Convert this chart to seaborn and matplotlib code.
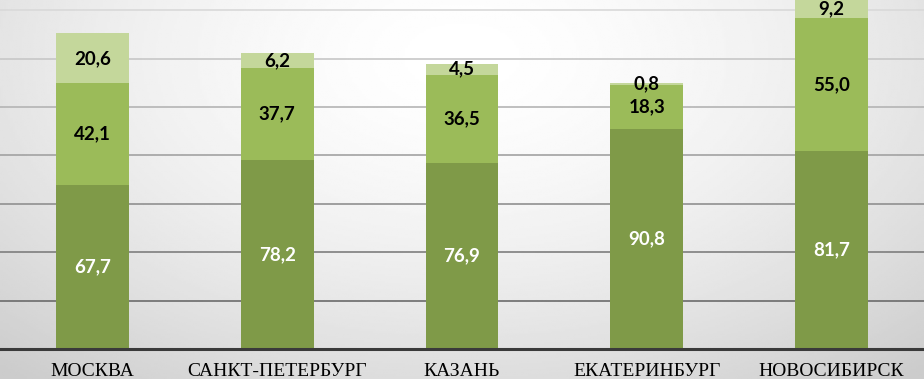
import numpy as np
import pandas as pd
import matplotlib.pyplot as plt
import seaborn as sns

# данные
cities = ['МОСКВА', 'САНКТ-ПЕТЕРБУРГ', 'КАЗАНЬ', 'ЕКАТЕРИНБУРГ', 'НОВОСИБИРСК']
base = [67.7, 78.2, 76.9, 90.8, 81.7]
middle = [42.1, 37.7, 36.5, 18.3, 55.0]
top = [20.6, 6.2, 4.5, 0.8, 9.2]
grid_ticks = [0, 20, 40, 60, 80, 100, 120, 140]

df = pd.DataFrame({'city': cities, 'base': base, 'middle': middle, 'top': top})
df['bottom2'] = df['base'] + df['middle']

sns.set_style('white')

fig = plt.figure(figsize=(9.24, 3.79), dpi=100)

# фон с мягким градиентом
bg = fig.add_axes([0, 0, 1, 1], zorder=-2)
yy, xx = np.mgrid[0:1:200j, 0:1:400j]
r = np.sqrt(((xx - 0.5) / 0.75) ** 2 + ((yy - 0.15) / 1.1) ** 2)
bg.imshow(1 - 0.2 * np.clip(r, 0, 1) ** 1.6, cmap='gray', vmin=0, vmax=1,
          aspect='auto', extent=[0, 1, 1, 0])
bg.axis('off')

ax = fig.add_axes([0, 30 / 379, 1, 349 / 379])
ax.patch.set_alpha(0)

colors = ['#7F9A48', '#9BBB59', '#C4D79B']
w = 0.395
lab = dict(label_type='center', fontsize=13.5, fontweight='bold', family='Lato')

sns.barplot(data=df, x='city', y='base', color=colors[0], width=w, saturation=1,
            errorbar=None, ax=ax, zorder=3, linewidth=0, edgecolor='none')
ax.bar_label(ax.containers[-1], labels=[f'{v:.1f}'.replace('.', ',') for v in base],
             color='white', **lab)

sns.barplot(data=df, x='city', y='middle', bottom=df['base'], color=colors[1], width=w,
            saturation=1, errorbar=None, ax=ax, zorder=3, linewidth=0, edgecolor='none')
ax.bar_label(ax.containers[-1], labels=[f'{v:.1f}'.replace('.', ',') for v in middle],
             color='black', **lab)

sns.barplot(data=df, x='city', y='top', bottom=df['bottom2'], color=colors[2], width=w,
            saturation=1, errorbar=None, ax=ax, zorder=3, linewidth=0, edgecolor='none')
ax.bar_label(ax.containers[-1], labels=[f'{v:.1f}'.replace('.', ',') for v in top],
             color='black', **lab)

ax.set_xlim(-0.5, 4.5)
ax.set_ylim(0, 144.2)
ax.set_yticks(grid_ticks)
ax.set_yticklabels([])
ax.yaxis.grid(True, linewidth=1.2, zorder=0)
ax.set_axisbelow(True)
# линии сетки светлее вверху
for i, gl in enumerate(ax.get_ygridlines()):
    shade = 0.35 + 0.5 * i / (len(grid_ticks) - 1)
    gl.set_color((shade, shade, shade))

for s in ['left', 'right', 'top']:
    ax.spines[s].set_visible(False)
ax.spines['bottom'].set_color('#3a3a3a')
ax.spines['bottom'].set_linewidth(2.2)
ax.spines['bottom'].set_zorder(4)

ax.set_xlabel('')
ax.set_ylabel('')
ax.tick_params(axis='both', length=0)
ax.tick_params(axis='x', pad=10)
for lbl in ax.get_xticklabels():
    lbl.set_family('Liberation Serif')
    lbl.set_fontsize(14)
    lbl.set_color('black')

fig.savefig('out.png', dpi=100)
